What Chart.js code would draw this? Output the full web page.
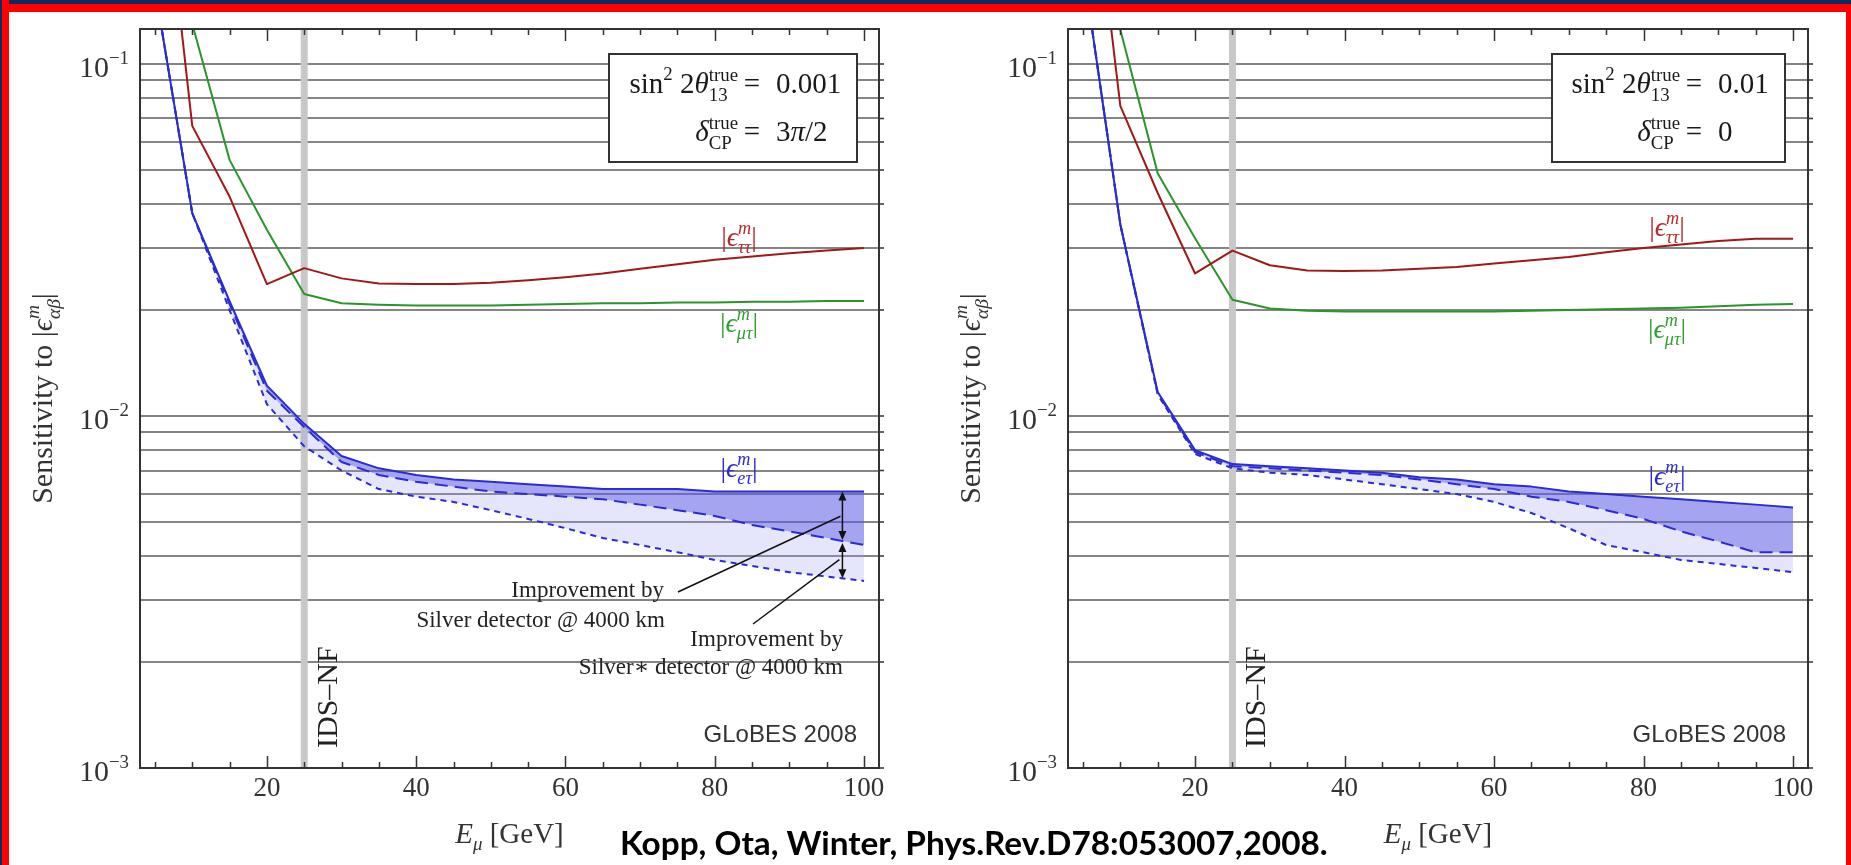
<!DOCTYPE html>
<html lang="en">
  <head>
    <meta charset="UTF-8" />
    <title>Sensitivity to NSI vs muon energy</title>
    <script src="https://cdn.jsdelivr.net/npm/chart.js"></script>
    <style>
      body { margin: 0; width: 1851px; height: 865px; background: #fff; position: relative; overflow: hidden; }
      canvas { position: absolute; top: 0; }
      .bar { position: absolute; z-index: 5; }
      #cite {
        position: absolute; left: 620px; top: 826px; z-index: 6;
        font-family: Lato, "Open Sans", sans-serif; font-weight: 700; font-size: 30px;
        line-height: 1; white-space: nowrap; color: #000;
      }
    </style>
  </head>
  <body>
    <div class="bar" style="left:0;top:0;width:1851px;height:4px;background:#0d2b5c"></div>
    <div class="bar" style="left:0;top:4px;width:1851px;height:8px;background:#f00"></div>
    <div class="bar" style="left:0;top:0;width:2px;height:865px;background:#0d2b5c"></div>
    <div class="bar" style="left:2px;top:0;width:7px;height:865px;background:#f00"></div>
    <div class="bar" style="left:1846px;top:4px;width:5px;height:861px;background:#f00"></div>

    <canvas id="leftChart" width="925" height="865" style="left:0"></canvas>
    <canvas id="rightChart" width="926" height="865" style="left:925px"></canvas>
    <div id="cite">Kopp, Ota, Winter, Phys.Rev.D78:053007,2008.</div>

    <script>
      // muon energy E_mu [GeV]
      const energy = [5, 10, 15, 20, 25, 30, 35, 40, 45, 50, 55, 60, 65, 70, 75, 80, 85, 90, 95, 100];

      // left panel: sin^2 2theta13 = 0.001, deltaCP = 3pi/2
      const leftTauTau = [0.60, 0.0667, 0.0420, 0.0237, 0.0263, 0.0246, 0.0238, 0.0237, 0.0237, 0.0239, 0.0243, 0.0248, 0.0254, 0.0262, 0.0270, 0.0278, 0.0284, 0.0290, 0.0295, 0.0300];
      const leftMuTau = [0.50, 0.130, 0.0534, 0.0338, 0.0222, 0.0209, 0.0207, 0.0206, 0.0206, 0.0206, 0.0207, 0.0208, 0.0209, 0.0209, 0.0210, 0.0210, 0.0211, 0.0211, 0.0212, 0.0212];
      const leftETau = [0.164, 0.0377, 0.0212, 0.0122, 0.0095, 0.0077, 0.0071, 0.0068, 0.0066, 0.0065, 0.0064, 0.0063, 0.0062, 0.0062, 0.0062, 0.0061, 0.0061, 0.0061, 0.0061, 0.0061];
      const leftETauSilver = [0.164, 0.0377, 0.0208, 0.0118, 0.0093, 0.0074, 0.0068, 0.0065, 0.0063, 0.0061, 0.0060, 0.0059, 0.0058, 0.0056, 0.0054, 0.0052, 0.0049, 0.0047, 0.0045, 0.0043];
      const leftETauSilverStar = [0.164, 0.0377, 0.0200, 0.0108, 0.0082, 0.0070, 0.0062, 0.0059, 0.0057, 0.0054, 0.0051, 0.0048, 0.0045, 0.0043, 0.0041, 0.0039, 0.00375, 0.0036, 0.0035, 0.0034];

      // right panel: sin^2 2theta13 = 0.01, deltaCP = 0
      const rightTauTau = [0.60, 0.0760, 0.0430, 0.0254, 0.0295, 0.0268, 0.0259, 0.0258, 0.0259, 0.0262, 0.0265, 0.0271, 0.0277, 0.0283, 0.0292, 0.0300, 0.0307, 0.0314, 0.0319, 0.0319];
      const rightMuTau = [0.50, 0.125, 0.0489, 0.0320, 0.0214, 0.0202, 0.0199, 0.0198, 0.0198, 0.0198, 0.0198, 0.0198, 0.0199, 0.0200, 0.0201, 0.0202, 0.0203, 0.0205, 0.0207, 0.0208];
      const rightETau = [0.19, 0.035, 0.0117, 0.0080, 0.0073, 0.0072, 0.0071, 0.0070, 0.0069, 0.0067, 0.0066, 0.0064, 0.0063, 0.0061, 0.0060, 0.0059, 0.0058, 0.0057, 0.0056, 0.0055];
      const rightETauSilver = [0.19, 0.035, 0.0116, 0.0079, 0.0072, 0.0071, 0.0070, 0.0069, 0.0068, 0.0066, 0.0064, 0.0062, 0.0059, 0.0057, 0.0054, 0.0051, 0.0047, 0.0044, 0.0041, 0.0041];
      const rightETauSilverStar = [0.19, 0.035, 0.0115, 0.0078, 0.0071, 0.0069, 0.0068, 0.0066, 0.0064, 0.0062, 0.0060, 0.0057, 0.0053, 0.0048, 0.0043, 0.0041, 0.0039, 0.0038, 0.0037, 0.0036];

      // axes
      const xMin = 3, xMax = 102;
      const yMin = 0.001, yMax = 0.1257;
      const xMajorTicks = [20, 40, 60, 80, 100];
      const xMinorTicks = [5, 10, 15, 25, 30, 35, 45, 50, 55, 65, 70, 75, 85, 90, 95];
      const yGridTicks = [0.001, 0.002, 0.003, 0.004, 0.005, 0.006, 0.007, 0.008, 0.009,
                          0.01, 0.02, 0.03, 0.04, 0.05, 0.06, 0.07, 0.08, 0.09, 0.1];
      const yDecadeTicks = [0.001, 0.01, 0.1];
      const yDecadeLabels = ["\u22123", "\u22122", "\u22121"];
      const idsEnergy = 25;

      const serif = '"Liberation Serif", "DejaVu Serif", serif';
      const blue = "#2b2bd6";
      const red = "#a11818";
      const green = "#2a952a";

      function pairs(arr) {
        return energy.map((e, i) => ({ x: e, y: arr[i] }));
      }

      // log-linear value of a curve at energy e
      function valueAt(arr, e) {
        for (let i = 0; i < energy.length - 1; i++) {
          if (e >= energy[i] && e <= energy[i + 1]) {
            const f = (e - energy[i]) / (energy[i + 1] - energy[i]);
            return Math.pow(10, Math.log10(arr[i]) * (1 - f) + Math.log10(arr[i + 1]) * f);
          }
        }
        return arr[arr.length - 1];
      }

      function font(px, it) {
        return (it ? "italic " : "") + px + "px " + serif;
      }

      function runWidth(ctx, r, base) {
        const s = base * (r.s || 1);
        if (r.sup !== undefined) {
          ctx.font = font(s, r.si);
          const a = ctx.measureText(r.sup).width;
          ctx.font = font(s, r.bi);
          const b = ctx.measureText(r.sub).width;
          return Math.max(a, b);
        }
        ctx.font = font(s, r.i);
        return ctx.measureText(r.t).width;
      }

      // draw a row of text pieces with super/subscripts
      function drawRich(ctx, runs, x, y, base, align) {
        let w = 0;
        runs.forEach((r) => (w += runWidth(ctx, r, base)));
        let cx = align === "right" ? x - w : align === "center" ? x - w / 2 : x;
        ctx.textAlign = "left";
        ctx.textBaseline = "alphabetic";
        runs.forEach((r) => {
          const s = base * (r.s || 1);
          const rw = runWidth(ctx, r, base);
          if (r.sup !== undefined) {
            ctx.font = font(s, r.si);
            ctx.fillText(r.sup, cx, y - base * 0.42);
            ctx.font = font(s, r.bi);
            ctx.fillText(r.sub, cx, y + base * 0.26);
          } else {
            ctx.font = font(s, r.i);
            ctx.fillText(r.t, cx, y + (r.dy || 0) * base);
          }
          cx += rw;
        });
        return w;
      }

      function epsLabel(sub) {
        return [{ t: "|" }, { t: "\u03f5", i: 1 }, { sup: "m", sub: sub, s: 0.65, si: 1, bi: 1 }, { t: "|" }];
      }

      function arrow(ctx, x, y0, y1) {
        ctx.beginPath();
        ctx.moveTo(x, y0 + 6);
        ctx.lineTo(x, y1 - 6);
        ctx.stroke();
        [[y0, 1], [y1, -1]].forEach(([y, d]) => {
          ctx.beginPath();
          ctx.moveTo(x, y);
          ctx.lineTo(x - 4, y + 9 * d);
          ctx.lineTo(x + 4, y + 9 * d);
          ctx.closePath();
          ctx.fill();
        });
      }

      function panelDecor(p) {
        return {
          id: "decor",
          beforeDatasetsDraw(chart) {
            const { ctx, chartArea: a, scales } = chart;
            const bx = scales.x.getPixelForValue(idsEnergy);
            ctx.save();
            ctx.fillStyle = "#c8c8c8";
            ctx.fillRect(bx - 3.5, a.top, 7, a.bottom - a.top);
            ctx.restore();
          },
          afterDraw(chart) {
            const { ctx, chartArea: a, scales } = chart;
            const xs = scales.x, ys = scales.y;
            ctx.save();

            // frame
            ctx.strokeStyle = "#333";
            ctx.lineWidth = 2;
            ctx.strokeRect(a.left, a.top, a.right - a.left, a.bottom - a.top);

            // x ticks (inside, top and bottom)
            ctx.lineWidth = 1.5;
            ctx.beginPath();
            xMajorTicks.concat(xMinorTicks).forEach((v) => {
              const px = Math.round(xs.getPixelForValue(v)) + 0.5;
              const len = xMajorTicks.includes(v) ? 12 : 6;
              ctx.moveTo(px, a.bottom);
              ctx.lineTo(px, a.bottom - len);
              ctx.moveTo(px, a.top);
              ctx.lineTo(px, a.top + len);
            });
            // y tick stubs outside the right frame
            yGridTicks.forEach((v) => {
              const py = ys.getPixelForValue(v);
              ctx.moveTo(a.right, py);
              ctx.lineTo(a.right + 5, py);
            });
            ctx.stroke();

            // y labels 10^k
            ctx.fillStyle = "#333";
            yDecadeTicks.forEach((v, i) => {
              const py = ys.getPixelForValue(v);
              drawRich(ctx, [{ t: "10" }, { t: yDecadeLabels[i], s: 0.63, dy: -0.43 }], a.left - 11, py + 13, 30, "right");
            });

            // axis titles
            const midX = (a.left + a.right) / 2;
            drawRich(ctx, [{ t: "E", i: 1 }, { t: "\u03bc", i: 1, s: 0.65, dy: 0.25 }, { t: " [GeV]" }], midX, 843, 29, "center");
            ctx.save();
            ctx.translate(a.left - 88, (a.top + a.bottom) / 2);
            ctx.rotate(-Math.PI / 2);
            drawRich(ctx, [{ t: "Sensitivity to |" }, { t: "\u03f5", i: 1 }, { sup: "m", sub: "\u03b1\u03b2", s: 0.65, si: 1, bi: 1 }, { t: "|" }], 0, 0, 30, "center");
            ctx.restore();

            // IDS-NF marker label
            ctx.save();
            ctx.translate(xs.getPixelForValue(idsEnergy) + 33, 748);
            ctx.rotate(-Math.PI / 2);
            ctx.font = font(30);
            ctx.fillStyle = "#222";
            ctx.textAlign = "left";
            ctx.fillText("IDS\u2013NF", 0, 0);
            ctx.restore();

            // curve labels
            const lx = a.left + 599;
            ctx.fillStyle = "#b52a2a";
            drawRich(ctx, epsLabel("\u03c4\u03c4"), lx, p.labelY[0], 28, "center");
            ctx.fillStyle = "#2f9f2f";
            drawRich(ctx, epsLabel("\u03bc\u03c4"), lx, p.labelY[1], 28, "center");
            ctx.fillStyle = blue;
            drawRich(ctx, epsLabel("e\u03c4"), lx, p.labelY[2], 28, "center");

            // parameter box
            const bl = a.right - p.box[0], br = a.right - p.box[1];
            ctx.fillStyle = "#fff";
            ctx.fillRect(bl, 54, br - bl, 108);
            ctx.strokeStyle = "#333";
            ctx.lineWidth = 2;
            ctx.strokeRect(bl, 54, br - bl, 108);
            ctx.fillStyle = "#1a1a1a";
            const eq = a.right - p.eq;
            drawRich(ctx, [{ t: "sin" }, { t: "2", s: 0.65, dy: -0.45 }, { t: " 2" }, { t: "\u03b8", i: 1 }, { sup: "true", sub: "13", s: 0.65 }], eq - 14, 93, 29, "right");
            drawRich(ctx, [{ t: "=" }], eq, 93, 29, "center");
            drawRich(ctx, [{ t: p.theta }], eq + 24, 93, 29, "left");
            drawRich(ctx, [{ t: "\u03b4", i: 1 }, { sup: "true", sub: "CP", s: 0.65 }], eq - 14, 141, 29, "right");
            drawRich(ctx, [{ t: "=" }], eq, 141, 29, "center");
            drawRich(ctx, p.delta, eq + 24, 141, 29, "left");

            // GLoBES tag
            ctx.font = '24px "Liberation Sans", Arial, sans-serif';
            ctx.fillStyle = "#333";
            ctx.textAlign = "right";
            ctx.fillText("GLoBES 2008", a.right - 22, 742);

            if (p.annotate) {
              const ax = xs.getPixelForValue(97.1);
              const y0 = ys.getPixelForValue(valueAt(p.eTau, 97.1));
              const y1 = ys.getPixelForValue(valueAt(p.eTauSilver, 97.1));
              const y2 = ys.getPixelForValue(valueAt(p.eTauSilverStar, 97.1));
              ctx.strokeStyle = "#111";
              ctx.fillStyle = "#111";
              ctx.lineWidth = 1.5;
              arrow(ctx, ax, y0, y1 - 1);
              arrow(ctx, ax, y1 + 2, y2);
              ctx.beginPath();
              ctx.moveTo(678, 592);
              ctx.lineTo(ax - 2, (y0 + y1) / 2);
              ctx.moveTo(753, 624);
              ctx.lineTo(ax - 3, (y1 + y2) / 2);
              ctx.stroke();
              ctx.fillStyle = "#222";
              ctx.font = font(23);
              ctx.textAlign = "right";
              ctx.fillText("Improvement by", 664, 597);
              ctx.fillText("Silver detector @ 4000 km", 665, 627);
              ctx.fillText("Improvement by", 843, 646);
              ctx.fillText("Silver\u2217 detector @ 4000 km", 843, 674);
            }
            ctx.restore();
          },
        };
      }

      function makePanel(p) {
        const ctx = document.getElementById(p.canvas).getContext("2d");
        return new Chart(ctx, {
          type: "line",
          data: {
            datasets: [
              { data: pairs(p.eTau), borderColor: blue, borderWidth: 2, fill: false },
              { data: pairs(p.eTauSilver), borderColor: blue, borderWidth: 2, borderDash: [13, 7], fill: "-1", backgroundColor: "rgba(90,90,230,0.55)" },
              { data: pairs(p.eTauSilverStar), borderColor: blue, borderWidth: 2, borderDash: [6, 5], fill: "-1", backgroundColor: "rgba(150,150,240,0.25)" },
              { data: pairs(p.tauTau), borderColor: red, borderWidth: 2, fill: false },
              { data: pairs(p.muTau), borderColor: green, borderWidth: 2, fill: false },
            ],
          },
          options: {
            responsive: false,
            animation: false,
            devicePixelRatio: 1,
            layout: { padding: { top: 29, right: p.padRight, bottom: 0, left: 0 } },
            elements: { point: { radius: 0 }, line: { tension: 0, borderJoinStyle: "round" } },
            plugins: { legend: { display: false }, tooltip: { enabled: false } },
            scales: {
              x: {
                type: "linear",
                min: xMin,
                max: xMax,
                afterBuildTicks: (s) => { s.ticks = xMajorTicks.map((v) => ({ value: v })); },
                afterFit: (s) => { s.height = 97; },
                grid: { display: false, drawTicks: false },
                border: { display: false },
                ticks: { font: { family: serif, size: 27 }, color: "#333", padding: 5, maxRotation: 0, autoSkip: false },
              },
              y: {
                type: "logarithmic",
                min: yMin,
                max: yMax,
                afterBuildTicks: (s) => { s.ticks = yGridTicks.map((v) => ({ value: v })); },
                afterFit: (s) => { s.width = p.axisWidth; },
                grid: { color: "#858585", lineWidth: 2, drawTicks: false },
                border: { display: false },
                ticks: { display: false },
              },
            },
          },
          plugins: [panelDecor(p)],
        });
      }

      makePanel({
        canvas: "leftChart", axisWidth: 140, padRight: 46,
        eTau: leftETau, eTauSilver: leftETauSilver, eTauSilverStar: leftETauSilverStar,
        tauTau: leftTauTau, muTau: leftMuTau,
        labelY: [246, 332, 477],
        box: [270, 22], eq: 127,
        theta: "0.001",
        delta: [{ t: "3" }, { t: "\u03c0", i: 1 }, { t: "/2" }],
        annotate: true,
      });

      makePanel({
        canvas: "rightChart", axisWidth: 143, padRight: 43,
        eTau: rightETau, eTauSilver: rightETauSilver, eTauSilverStar: rightETauSilverStar,
        tauTau: rightTauTau, muTau: rightMuTau,
        labelY: [236, 338, 485],
        box: [256, 23], eq: 114,
        theta: "0.01",
        delta: [{ t: "0" }],
        annotate: false,
      });

      // fit the citation line to its width in the picture
      const cite = document.getElementById("cite");
      const w = cite.getBoundingClientRect().width;
      cite.style.fontSize = (30 * 708) / w + "px";
    </script>
  </body>
</html>
